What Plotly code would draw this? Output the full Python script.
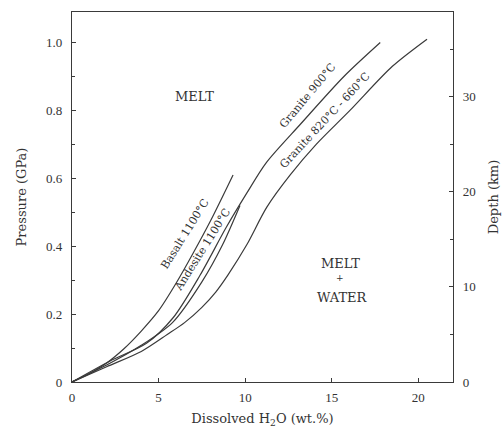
import plotly.graph_objects as go

# Data (pressure in GPa vs dissolved H2O wt.%)
basalt_x = [0, 1, 2, 3, 4, 5, 6, 7, 8, 9.3]
basalt_y = [0, 0.025, 0.056, 0.098, 0.15, 0.21, 0.29, 0.38, 0.475, 0.61]

andesite_x = [0, 2, 4, 5.8, 7.5, 8.7, 9.7]
andesite_y = [0, 0.05, 0.108, 0.175, 0.295, 0.405, 0.52]

granite900_x = [0, 2.2, 4.3, 5.85, 7.4, 8.9, 10.1, 11.2, 13.2, 15.7, 17.8]
granite900_y = [0, 0.062, 0.114, 0.19, 0.315, 0.455, 0.557, 0.645, 0.76, 0.9, 1.0]

granite820_x = [0, 2, 4, 5.5, 6.5, 7.5, 8.3, 9.0, 10.1, 11.25, 12.6, 14.1, 16.05, 18.5, 20.5]
granite820_y = [0, 0.045, 0.09, 0.14, 0.175, 0.22, 0.265, 0.315, 0.405, 0.515, 0.61, 0.70, 0.80, 0.93, 1.01]

depth_ticks = [0, 10, 20, 30]
p_ticks = [0, 0.2, 0.4, 0.6, 0.8, 1.0]
p_ticklabels = ["0", "0.2", "0.4", "0.6", "0.8", "1.0"]
x_ticks = [0, 5, 10, 15, 20]

XMAX = 22.0
YMAX = 1.09
DMAX = 38.9

SERIF = "Liberation Serif, Times New Roman, serif"
WIDE = "DejaVu Serif, serif"
LC = "#3a3a3a"
TC = "#333"

fig = go.Figure()
for xs, ys in [(basalt_x, basalt_y), (andesite_x, andesite_y),
               (granite900_x, granite900_y), (granite820_x, granite820_y)]:
    fig.add_trace(go.Scatter(x=xs, y=ys, mode="lines",
                             line=dict(color=LC, width=1.2, shape="spline", smoothing=0.8),
                             showlegend=False, hoverinfo="skip"))

# invisible trace to activate depth axis
fig.add_trace(go.Scatter(x=[0], y=[0], yaxis="y2", mode="markers", marker=dict(opacity=0),
                         showlegend=False, hoverinfo="skip"))

ann = [
    dict(x=7.1, y=0.84, text="MELT", textangle=0, size=13),
    dict(x=15.5, y=0.35, text="MELT", textangle=0, size=13),
    dict(x=15.5, y=0.307, text="+", textangle=0, size=9),
    dict(x=15.6, y=0.248, text="WATER", textangle=0, size=13),
    dict(x=6.5, y=0.435, text="Basalt 1100°C", textangle=-58, size=11),
    dict(x=7.55, y=0.39, text="Andesite 1100°C", textangle=-58, size=11),
    dict(x=13.6, y=0.845, text="Granite 900°C", textangle=-50, size=11),
    dict(x=14.6, y=0.77, text="Granite 820°C - 660°C", textangle=-47, size=11),
]
for a in ann:
    fig.add_annotation(x=a["x"], y=a["y"], text=a["text"], textangle=a["textangle"], showarrow=False,
                       font=dict(family=WIDE, size=a["size"], color=TC))

fig.update_layout(
    width=504, height=438,
    margin=dict(l=72, r=51, t=12, b=56, autoexpand=False),
    paper_bgcolor="white", plot_bgcolor="white",
    font=dict(family=SERIF, size=13, color=TC),
    xaxis=dict(range=[0, XMAX], tickvals=x_ticks, ticks="inside", ticklen=4, tickcolor=LC,
               showline=True, linecolor=LC, linewidth=1.2, mirror=True, showgrid=False, zeroline=False,
               ticklabelstandoff=3, automargin=False,
               title=dict(text="Dissolved H<sub>2</sub>O (wt.%)", font=dict(family=WIDE, size=13), standoff=10),
               tickfont=dict(size=13)),
    yaxis=dict(range=[0, YMAX], tickvals=p_ticks, ticktext=p_ticklabels, ticks="inside", ticklen=4,
               tickcolor=LC, showline=True, linecolor=LC, linewidth=1.2, showgrid=False, zeroline=False,
               ticklabelstandoff=6, automargin=False,
               minor=dict(dtick=0.1, tick0=0, ticks="inside", ticklen=3, tickcolor=LC),
               title=dict(text="Pressure (GPa)", font=dict(family=WIDE, size=13), standoff=16),
               tickfont=dict(size=13)),
    yaxis2=dict(range=[0, DMAX], overlaying="y", side="right", tickvals=depth_ticks, ticks="inside",
                ticklen=4, tickcolor=LC, showline=True, linecolor=LC, linewidth=1.2, showgrid=False,
                zeroline=False, ticklabelstandoff=6, automargin=False,
                minor=dict(dtick=5, tick0=0, ticks="inside", ticklen=3, tickcolor=LC),
                title=dict(text="Depth (km)", font=dict(family=WIDE, size=13), standoff=14),
                tickfont=dict(size=13)),
)

fig.write_html("out.html")
